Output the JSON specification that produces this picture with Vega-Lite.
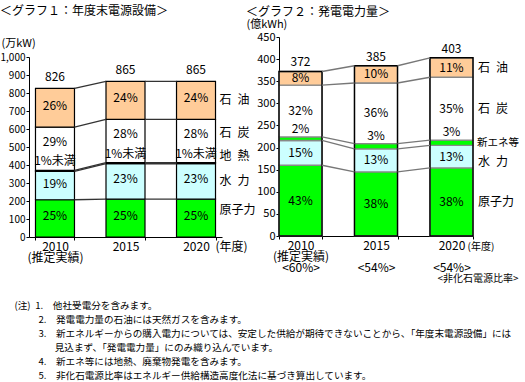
{
  "$schema": "https://vega.github.io/schema/vega-lite/v6.json",
  "padding": {"left": 0, "top": 5, "right": 0, "bottom": 0},
  "background": "white",
  "config": {
    "font": "Noto Sans CJK JP",
    "view": {"stroke": null},
    "axis": {"labelColor": "#000", "titleColor": "#000", "domainColor": "#000", "tickColor": "#000", "labelFontSize": 11, "titleFontSize": 11, "titleFontWeight": "normal", "grid": false, "labelFont": "Noto Sans CJK JP", "titleFont": "Noto Sans CJK JP", "labelOverlap": false},
    "title": {"fontWeight": "normal", "anchor": "start", "color": "#000", "font": "Noto Sans CJK JP"},
    "text": {"fontSize": 12, "color": "#000"}
  },
  "title": {
    "text": [
      "\u200b\u3000\u2002(注)\u20021.\u2003他社受電分を含みます。",
      "\u200b\u3000\u3000\u3000\u30002.\u2003発電電力量の石油には天然ガスを含みます。",
      "\u200b\u3000\u3000\u3000\u30003.\u2003新エネルギーからの購入電力については、安定した供給が期待できないことから、「年度末電源設備」には",
      "\u200b\u3000\u3000\u3000\u3000\u3000\u2002\u2009見込まず、「発電電力量」にのみ織り込んでいます。",
      "\u200b\u3000\u3000\u3000\u30004.\u2003新エネ等には地熱、廃棄物発電を含みます。",
      "\u200b\u3000\u3000\u3000\u30005.\u2003非化石電源比率はエネルギー供給構造高度化法に基づき算出しています。"
    ],
    "orient": "bottom", "anchor": "start", "fontSize": 9.6, "lineHeight": 14, "offset": 18
  },
  "spacing": -10,
  "hconcat": [
    {
      "width": 193, "height": 200,
      "title": {"text": "＜グラフ１：年度末電源設備＞", "fontSize": 12, "offset": 19},
      "data": {"values": [
        {"year": "2010", "type": "原子力", "v": 207, "p": "25%"},
        {"year": "2010", "type": "水\u2002力", "v": 157, "p": "19%"},
        {"year": "2010", "type": "地\u2002熱", "v": 6, "p": "1%未満"},
        {"year": "2010", "type": "石\u2002炭", "v": 240, "p": "29%"},
        {"year": "2010", "type": "石\u2002油", "v": 216, "p": "26%"},
        {"year": "2015", "type": "原子力", "v": 210, "p": "25%"},
        {"year": "2015", "type": "水\u2002力", "v": 197, "p": "23%"},
        {"year": "2015", "type": "地\u2002熱", "v": 6, "p": "1%未満"},
        {"year": "2015", "type": "石\u2002炭", "v": 241, "p": "28%"},
        {"year": "2015", "type": "石\u2002油", "v": 211, "p": "24%"},
        {"year": "2020", "type": "原子力", "v": 210, "p": "25%"},
        {"year": "2020", "type": "水\u2002力", "v": 197, "p": "23%"},
        {"year": "2020", "type": "地\u2002熱", "v": 6, "p": "1%未満"},
        {"year": "2020", "type": "石\u2002炭", "v": 241, "p": "28%"},
        {"year": "2020", "type": "石\u2002油", "v": 211, "p": "24%"}
      ]},
      "transform": [
        {"window": [{"op": "row_number", "as": "o"}]},
        {"stack": "v", "groupby": ["year"], "sort": [{"field": "o"}], "as": ["y0", "y1"]},
        {"calculate": "(datum.y0 + datum.y1) / 2", "as": "ym"}
      ],
      "encoding": {
        "x": {"field": "year", "type": "nominal",
          "scale": {"domain": ["2010", "2015", "2020"], "paddingInner": 0.447, "paddingOuter": 0.092},
          "axis": {"title": "(年度)", "titleX": 186, "titleY": 4, "titleAlign": "left", "titleBaseline": "top", "titleFontSize": 12,
            "labelAngle": 0, "labelFontSize": 12, "labelLineHeight": 11, "labelPadding": 1, "tickSize": 3, "tickBand": "extent", "labelOverlap": false,
            "labelExpr": "datum.value == '2010' ? ['2010', '(推定実績)'] : (datum.value == '2015' || datum.value == '2020') ? datum.value : ''"}
        }
      },
      "layer": [
        {
          "mark": {"type": "bar", "stroke": "#000", "strokeWidth": 1.2},
          "encoding": {
            "y": {"field": "y0", "type": "quantitative", "scale": {"domain": [0, 1000], "range": [200, 20]},
              "axis": {"title": "(万kW)", "titleAngle": 0, "titleX": -28, "titleY": 6, "titleAlign": "left", "titleBaseline": "middle", "labelOverlap": false, "tickCount": 20, "labelFontSize": 10,
                "values": [0, 100, 200, 300, 400, 500, 600, 700, 800, 900, 1000], "format": ",d", "tickSize": 3, "labelPadding": 1}},
            "y2": {"field": "y1"},
            "fill": {"field": "type", "type": "nominal", "legend": null,
              "scale": {"domain": ["原子力", "水\u2002力", "地\u2002熱", "石\u2002炭", "石\u2002油"], "range": ["#00FF00", "#CCFFFF", "#000000", "#FFFFFF", "#FFCC99"]}}
          }
        },
        {
          "transform": [
            {"window": [{"op": "lead", "field": "y1", "as": "ny1"}, {"op": "lead", "field": "year", "as": "nyear"}], "groupby": ["type"], "sort": [{"field": "year"}]},
            {"filter": "datum.nyear != null"}
          ],
          "mark": {"type": "rule", "color": "#333", "strokeWidth": 1.3},
          "encoding": {
            "x": {"field": "year", "type": "nominal", "bandPosition": 1},
            "x2": {"field": "nyear", "bandPosition": 0},
            "y": {"field": "y1", "type": "quantitative"},
            "y2": {"field": "ny1"}
          }
        },
        {
          "transform": [{"filter": "datum.type != '地\u2002熱' && datum.type != '石\u2002炭'"}],
          "mark": {"type": "text", "dy": -2},
          "encoding": {"y": {"field": "ym", "type": "quantitative"}, "text": {"field": "p"}}
        },
        {
          "transform": [{"filter": "datum.type == '石\u2002炭'"}],
          "mark": {"type": "text", "dy": -7},
          "encoding": {"y": {"field": "ym", "type": "quantitative"}, "text": {"field": "p"}}
        },
        {
          "transform": [{"filter": "datum.type == '地\u2002熱'"}],
          "mark": {"type": "text", "dy": -9},
          "encoding": {"y": {"field": "y1", "type": "quantitative"}, "text": {"field": "p"}}
        },
        {
          "mark": {"type": "text", "dy": -11},
          "encoding": {"y": {"aggregate": "max", "field": "y1", "type": "quantitative"}, "text": {"aggregate": "max", "field": "y1", "type": "quantitative"}}
        },
        {
          "transform": [{"filter": "datum.year == '2020' && (datum.type == '石\u2002油' || datum.type == '水\u2002力')"}],
          "mark": {"type": "text", "align": "left", "dx": 4},
          "encoding": {"x": {"field": "year", "type": "nominal", "bandPosition": 1}, "y": {"field": "ym", "type": "quantitative"}, "text": {"field": "type"}}
        },
        {
          "transform": [{"filter": "datum.year == '2020' && (datum.type == '石\u2002炭' || datum.type == '原子力')"}],
          "mark": {"type": "text", "align": "left", "dx": 4, "dy": -8},
          "encoding": {"x": {"field": "year", "type": "nominal", "bandPosition": 1}, "y": {"field": "ym", "type": "quantitative"}, "text": {"field": "type"}}
        },
        {
          "transform": [{"filter": "datum.year == '2020' && datum.type == '地\u2002熱'"}],
          "mark": {"type": "text", "align": "left", "dx": 4, "dy": -7},
          "encoding": {"x": {"field": "year", "type": "nominal", "bandPosition": 1}, "y": {"field": "y1", "type": "quantitative"}, "text": {"field": "type"}}
        }
      ]
    },
    {
      "width": 194, "height": 199,
      "title": {"text": "＜グラフ２：発電電力量＞", "fontSize": 12, "offset": -1},
      "data": {"values": [
        {"year": "2010", "type": "原子力", "v": 160, "p": "43%"},
        {"year": "2010", "type": "水\u2002力", "v": 56, "p": "15%"},
        {"year": "2010", "type": "新エネ等", "v": 8, "p": "2%"},
        {"year": "2010", "type": "石\u2002炭", "v": 117, "p": "32%"},
        {"year": "2010", "type": "石\u2002油", "v": 31, "p": "8%"},
        {"year": "2015", "type": "原子力", "v": 145, "p": "38%"},
        {"year": "2015", "type": "水\u2002力", "v": 52, "p": "13%"},
        {"year": "2015", "type": "新エネ等", "v": 12, "p": "3%"},
        {"year": "2015", "type": "石\u2002炭", "v": 137, "p": "36%"},
        {"year": "2015", "type": "石\u2002油", "v": 39, "p": "10%"},
        {"year": "2020", "type": "原子力", "v": 154, "p": "38%"},
        {"year": "2020", "type": "水\u2002力", "v": 51, "p": "13%"},
        {"year": "2020", "type": "新エネ等", "v": 12, "p": "3%"},
        {"year": "2020", "type": "石\u2002炭", "v": 142, "p": "35%"},
        {"year": "2020", "type": "石\u2002油", "v": 44, "p": "11%"}
      ]},
      "transform": [
        {"window": [{"op": "row_number", "as": "o"}]},
        {"stack": "v", "groupby": ["year"], "sort": [{"field": "o"}], "as": ["y0", "y1"]},
        {"calculate": "(datum.y0 + datum.y1) / 2", "as": "ym"}
      ],
      "encoding": {
        "x": {"field": "year", "type": "nominal",
          "scale": {"domain": ["2010", "2015", "2020"], "paddingInner": 0.43, "paddingOuter": 0},
          "axis": {"title": ["\u200b\u3000\u3000\u3000(年度)", "\u200b", "<非化石電源比率>"], "titleX": 158, "titleY": 5, "titleAlign": "left", "titleBaseline": "top", "titleFontSize": 10, "titleLineHeight": 16,
            "labelAngle": 0, "labelFontSize": 12, "labelLineHeight": 11, "labelPadding": 1, "tickSize": 3, "tickBand": "extent", "labelOverlap": false,
            "labelExpr": "datum.value == '2010' ? ['2010', '(推定実績)', '<60%>'] : (datum.value == '2015' || datum.value == '2020') ? [datum.value, '\u200b', '<54%>'] : ''"}
        }
      },
      "layer": [
        {
          "mark": {"type": "bar", "stroke": "#888", "strokeWidth": 1.3},
          "encoding": {
            "y": {"field": "y0", "type": "quantitative", "scale": {"domain": [0, 450]},
              "axis": {"title": "(億kWh)", "titleAngle": 0, "titleX": -33, "titleY": -13, "titleAlign": "left", "titleBaseline": "middle", "labelOverlap": false, "tickCount": 20,
                "values": [0, 50, 100, 150, 200, 250, 300, 350, 400, 450], "tickSize": 3, "labelPadding": 1}},
            "y2": {"field": "y1"},
            "fill": {"field": "type", "type": "nominal", "legend": null,
              "scale": {"domain": ["原子力", "水\u2002力", "新エネ等", "石\u2002炭", "石\u2002油"], "range": ["#00FF00", "#CCFFFF", "#FFFF00", "#FFFFFF", "#FFCC99"]}}
          }
        },
        {
          "mark": {"type": "bar", "fill": null, "fillOpacity": 0, "stroke": "#000", "strokeWidth": 1.4},
          "encoding": {
            "y": {"aggregate": "min", "field": "y0", "type": "quantitative"},
            "y2": {"aggregate": "max", "field": "y1"}
          }
        },
        {
          "transform": [
            {"window": [{"op": "lead", "field": "y1", "as": "ny1"}, {"op": "lead", "field": "year", "as": "nyear"}], "groupby": ["type"], "sort": [{"field": "year"}]},
            {"filter": "datum.nyear != null"}
          ],
          "mark": {"type": "rule", "color": "#777", "strokeWidth": 1.3},
          "encoding": {
            "x": {"field": "year", "type": "nominal", "bandPosition": 1},
            "x2": {"field": "nyear", "bandPosition": 0},
            "y": {"field": "y1", "type": "quantitative"},
            "y2": {"field": "ny1"}
          }
        },
        {
          "transform": [{"filter": "datum.type != '新エネ等'"}],
          "mark": {"type": "text"},
          "encoding": {"y": {"field": "ym", "type": "quantitative"}, "text": {"field": "p"}}
        },
        {
          "transform": [{"filter": "datum.type == '新エネ等'"}],
          "mark": {"type": "text", "dy": -8},
          "encoding": {"y": {"field": "y1", "type": "quantitative"}, "text": {"field": "p"}}
        },
        {
          "mark": {"type": "text", "dy": -9},
          "encoding": {"y": {"aggregate": "max", "field": "y1", "type": "quantitative"}, "text": {"aggregate": "max", "field": "y1", "type": "quantitative"}}
        },
        {
          "transform": [{"filter": "datum.year == '2020' && datum.type != '新エネ等' && datum.type != '水\u2002力'"}],
          "mark": {"type": "text", "align": "left", "dx": 5},
          "encoding": {"x": {"field": "year", "type": "nominal", "bandPosition": 1}, "y": {"field": "ym", "type": "quantitative"}, "text": {"field": "type"}}
        },
        {
          "transform": [{"filter": "datum.year == '2020' && datum.type == '水\u2002力'"}],
          "mark": {"type": "text", "align": "left", "dx": 5, "dy": 5},
          "encoding": {"x": {"field": "year", "type": "nominal", "bandPosition": 1}, "y": {"field": "ym", "type": "quantitative"}, "text": {"field": "type"}}
        },
        {
          "transform": [{"filter": "datum.year == '2020' && datum.type == '新エネ等'"}],
          "mark": {"type": "text", "align": "left", "dx": 4, "fontSize": 10.5},
          "encoding": {"x": {"field": "year", "type": "nominal", "bandPosition": 1}, "y": {"field": "ym", "type": "quantitative"}, "text": {"field": "type"}}
        }
      ]
    }
  ]
}
